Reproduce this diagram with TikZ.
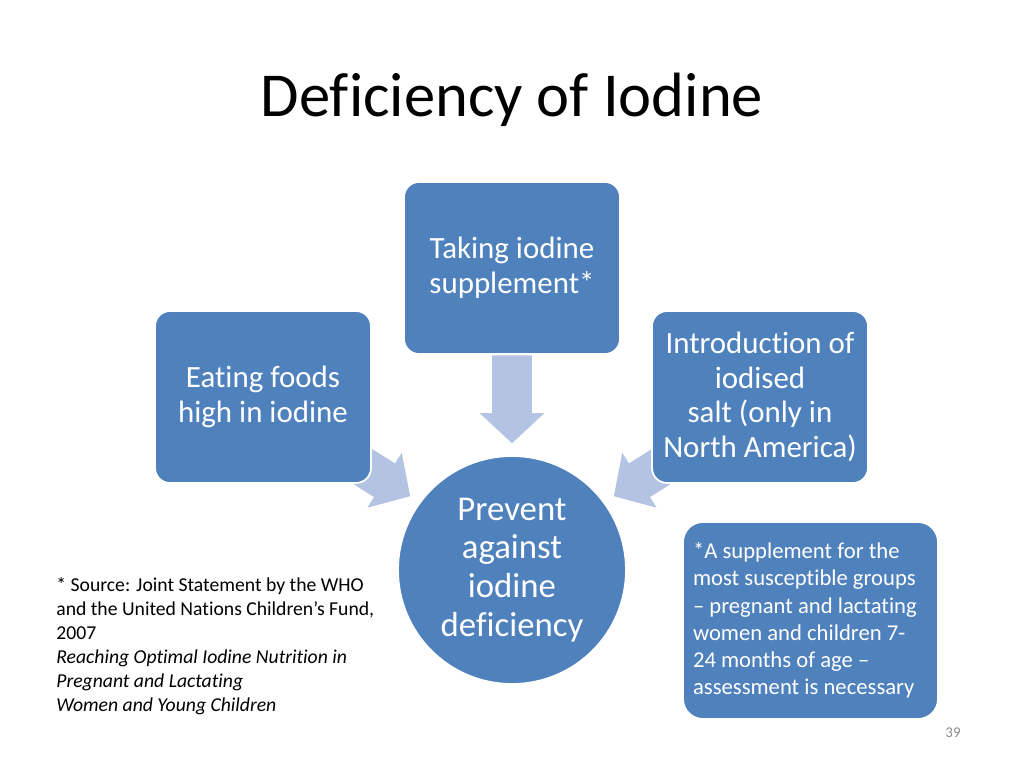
\documentclass[tikz,border=0pt]{standalone}
\usepackage{fontspec}
\setmainfont{Carlito}[Ligatures=NoCommon]
\usetikzlibrary{shapes.arrows}
\definecolor{boxblue}{HTML}{4F81BD}
\definecolor{arrowblue}{HTML}{B4C3E1}
\definecolor{pagegray}{HTML}{8C8C8C}
\tikzset{
  box/.style={rectangle, rounded corners=0.3cm, draw=white, line width=1pt, fill=boxblue, text=white, align=center, minimum width=4.32cm, minimum height=3.44cm, font=\fontsize{17.6}{19.8}\selectfont},
  fat/.style={single arrow, fill=arrowblue, minimum height=1.76cm, single arrow head extend=0.25cm, inner sep=0.39cm, single arrow tip angle=94}
}
\begin{document}
\begin{tikzpicture}[x=0.02cm, y=-0.02cm]

\fill[white] (0,0) rectangle (1024,768);
\useasboundingbox (0,0) rectangle (1024,768);

\node[font=\fontsize{35.6}{42}\selectfont] (title) at (512, 100) {Deficiency of Iodine};

\node[fat, rotate=-90] (a0) at (512, 390) {};
\node[fat, rotate=-32] (a1) at (365, 468) {};
\node[fat, rotate=-148] (a2) at (659, 468) {};

\node[box] (supp) at (512, 268) {Taking iodine\\supplement*};
\node[box] (food) at (263, 397) {Eating foods\\high in iodine};
\node[box] (salt) at (760, 397) {Introduction of\\iodised\\salt (only in\\North America)};

\node[circle, draw=white, line width=1pt, fill=boxblue, text=white, align=center, minimum size=4.56cm, font=\fontsize{19.8}{22.1}\selectfont] (prevent) at (512, 570) {Prevent\\against\\iodine\\deficiency};

\node[box, rounded corners=0.4cm, minimum width=5.1cm, minimum height=3.94cm, text width=4.7cm, inner sep=0.2cm, align=flush left, font=\fontsize{12.9}{15.5}\selectfont] (note) at (810.5, 620.5) {*A supplement for the\\most susceptible groups\\-- pregnant and lactating\\women and children 7-\\24 months of age --\\assessment is necessary};

\node[anchor=west, inner sep=0pt, align=left, font=\fontsize{11.2}{13.6}\selectfont] (source) at (56, 646) {* Source: Joint Statement by the WHO\\and the United Nations Children’s Fund,\\2007\\\textit{Reaching Optimal Iodine Nutrition in}\\\textit{Pregnant and Lactating}\\\textit{Women and Young Children}};

\node[text=pagegray, font=\fontsize{8.5}{10}\selectfont] (page) at (953, 733) {39};

\end{tikzpicture}
\end{document}
